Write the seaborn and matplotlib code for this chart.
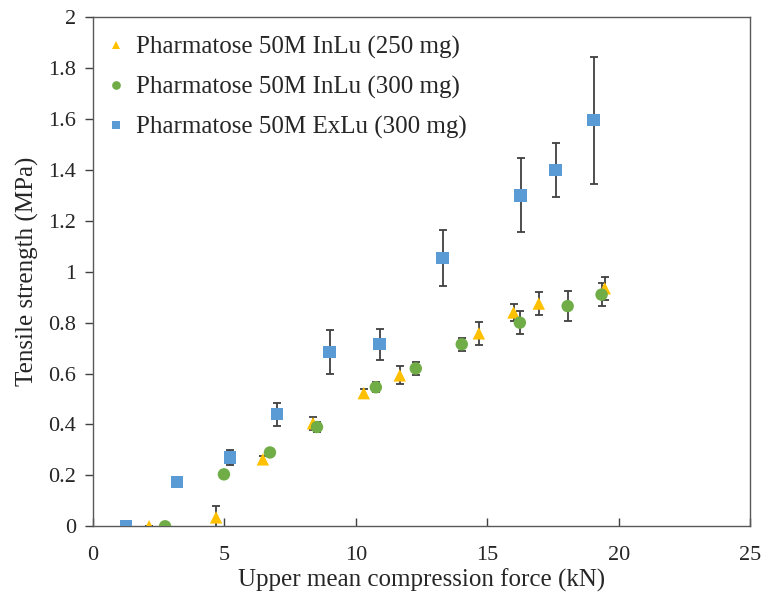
"""Tensile strength vs upper mean compression force, three lactose series."""

import matplotlib
matplotlib.use("Agg")
import matplotlib.pyplot as plt
import matplotlib.ticker as mticker
import pandas as pd
import seaborn as sns

series_names = [
    "Pharmatose 50M InLu (250 mg)",
    "Pharmatose 50M InLu (300 mg)",
    "Pharmatose 50M ExLu (300 mg)",
]

# InLu 250 mg
force_inlu_250 = [2.13, 4.68, 6.46, 8.37, 10.3, 11.67, 14.68, 16.0, 16.96, 19.47]
ts_inlu_250 = [0.0, 0.035, 0.263, 0.405, 0.523, 0.593, 0.758, 0.84, 0.875, 0.935]
err_inlu_250 = [0.0, 0.045, 0.015, 0.025, 0.015, 0.035, 0.045, 0.035, 0.045, 0.045]

# InLu 300 mg
force_inlu_300 = [2.74, 4.98, 6.73, 8.52, 10.76, 12.28, 14.03, 16.24, 18.06, 19.35]
ts_inlu_300 = [0.0, 0.204, 0.29, 0.39, 0.546, 0.62, 0.715, 0.80, 0.865, 0.91]
err_inlu_300 = [0.0, 0.01, 0.012, 0.02, 0.02, 0.025, 0.025, 0.045, 0.06, 0.045]

# ExLu 300 mg
force_exlu_300 = [1.25, 3.19, 5.2, 7.0, 9.0, 10.9, 13.3, 16.27, 17.6, 19.05]
ts_exlu_300 = [0.0, 0.175, 0.27, 0.44, 0.685, 0.715, 1.053, 1.30, 1.40, 1.595]
err_exlu_300 = [0.0, 0.01, 0.03, 0.045, 0.085, 0.06, 0.11, 0.145, 0.105, 0.25]

colors = ["#FFC000", "#70AD47", "#5B9BD5"]
markers = ["^", "o", "s"]

frames = []
for name, xs, ys, es in zip(
    series_names,
    [force_inlu_250, force_inlu_300, force_exlu_300],
    [ts_inlu_250, ts_inlu_300, ts_exlu_300],
    [err_inlu_250, err_inlu_300, err_exlu_300],
):
    frames.append(pd.DataFrame({"force": xs, "ts": ys, "err": es, "series": name}))
df = pd.concat(frames, ignore_index=True)

sns.set_theme(style="white")
plt.rcParams["font.family"] = ["Liberation Serif", "DejaVu Serif"]

fig = plt.figure(figsize=(7.63, 5.92), dpi=100)
ax = fig.add_axes([0.122, 0.111, 0.861, 0.86])

for name in series_names:
    sub = df[df["series"] == name]
    ax.errorbar(
        sub["force"], sub["ts"], yerr=sub["err"], fmt="none",
        ecolor="#404040", elinewidth=1.3, capsize=3, capthick=1.3, zorder=2,
    )

sns.scatterplot(
    data=df, x="force", y="ts", hue="series", style="series",
    hue_order=series_names, style_order=series_names,
    palette=colors, markers=markers, s=80, linewidth=0, ax=ax, zorder=3,
)

ax.set_xlim(0, 25)
ax.set_ylim(0, 2)
ax.xaxis.set_major_locator(mticker.MultipleLocator(5))
ax.yaxis.set_major_locator(mticker.MultipleLocator(0.2))
ax.yaxis.set_major_formatter(mticker.FuncFormatter(lambda v, _: f"{v:g}"))
ax.tick_params(axis="x", direction="in", length=6, width=1, color="#404040",
               labelsize=16, pad=14, labelcolor="#262626")
ax.tick_params(axis="y", direction="out", length=6, width=1, color="#404040",
               labelsize=16, pad=6, labelcolor="#262626")
ax.tick_params(left=True, bottom=True)

for sp in ax.spines.values():
    sp.set_color("#595959")
    sp.set_linewidth(1.0)

ax.set_xlabel("Upper mean compression force (kN)", fontsize=18, color="#262626", labelpad=3)
ax.set_ylabel("Tensile strength (MPa)", fontsize=18, color="#262626", labelpad=7)

handles, labels = ax.get_legend_handles_labels()
ax.legend(
    handles, labels, loc="upper left", frameon=False, fontsize=18,
    handlelength=1.0, handletextpad=0.3, labelspacing=0.67, borderpad=0.4,
    borderaxespad=0.0, markerscale=0.7, bbox_to_anchor=(0.0, 0.982),
)

fig.savefig("out.png", dpi=100)
